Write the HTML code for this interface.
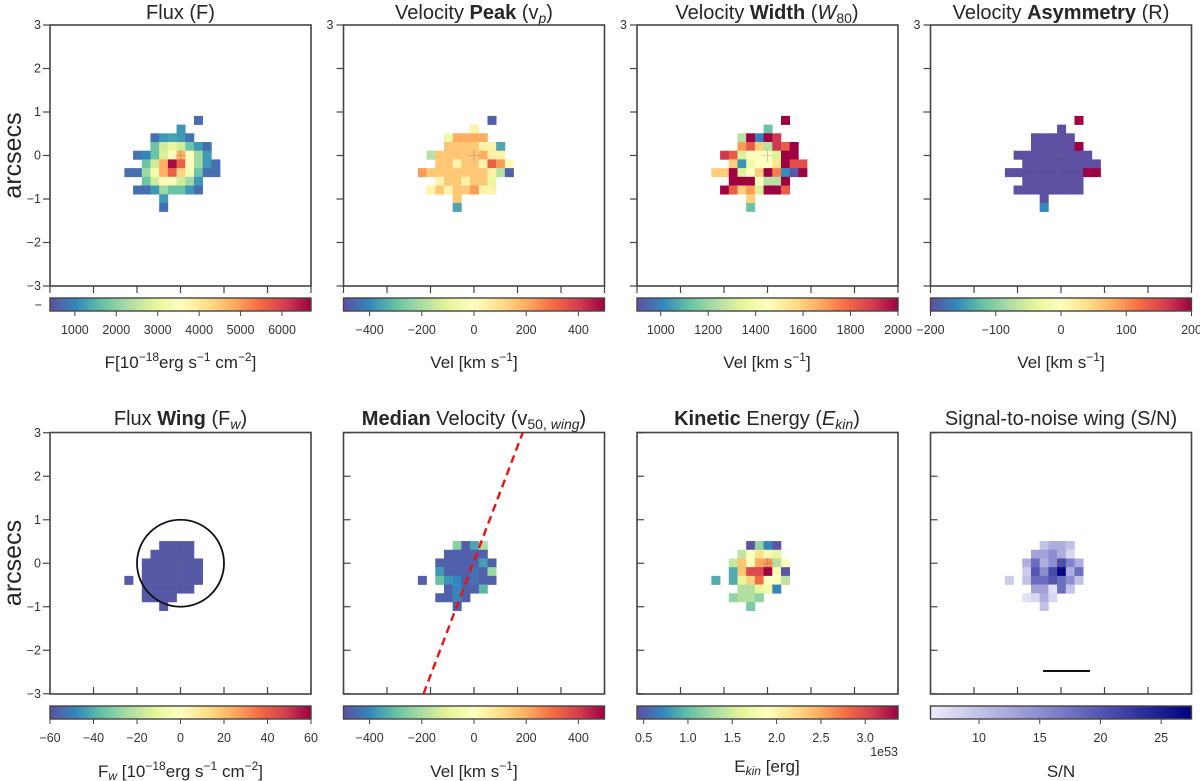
<!DOCTYPE html>
<html><head><meta charset="utf-8">
<style>
html,body{margin:0;padding:0;background:#fff;}
svg{display:block;font-family:"Liberation Sans",Arial,sans-serif;}
.tt{font-size:20px;fill:#262626;text-anchor:middle;}
.cl{font-size:17px;fill:#262626;text-anchor:middle;}
.tk{font-size:12.5px;fill:#333;}
</style></head>
<body>
<svg id="fig" width="1200" height="781" viewBox="0 0 1200 781" xmlns="http://www.w3.org/2000/svg">
<defs>
<linearGradient id="gSpec" x1="0" x2="1" y1="0" y2="0">
<stop offset="0" stop-color="#5e4fa2"/><stop offset="0.1" stop-color="#3288bd"/><stop offset="0.2" stop-color="#66c2a5"/><stop offset="0.3" stop-color="#abdda4"/><stop offset="0.4" stop-color="#e6f598"/><stop offset="0.5" stop-color="#ffffbf"/><stop offset="0.6" stop-color="#fee08b"/><stop offset="0.7" stop-color="#fdae61"/><stop offset="0.8" stop-color="#f46d43"/><stop offset="0.9" stop-color="#d53e4f"/><stop offset="1" stop-color="#9e0142"/>
</linearGradient>
<linearGradient id="gSN" x1="0" x2="1" y1="0" y2="0">
<stop offset="0" stop-color="#ececfa"/><stop offset="0.5" stop-color="#7b7bc8"/><stop offset="1" stop-color="#00007f"/>
</linearGradient>
</defs>
<text class="tt" x="180.5" y="19">Flux (F)</text>
<text class="tt" x="474" y="19">Velocity <tspan font-weight="bold">Peak</tspan> (v<tspan font-size="14" font-style="italic" dy="4">p</tspan><tspan dy="-4">)</tspan></text>
<text class="tt" x="767" y="19">Velocity <tspan font-weight="bold">Width</tspan> (<tspan font-style="italic">W</tspan><tspan font-size="14" dy="4">80</tspan><tspan dy="-4">)</tspan></text>
<text class="tt" x="1061" y="19">Velocity <tspan font-weight="bold">Asymmetry</tspan> (R)</text>
<text class="tt" x="180.5" y="425">Flux <tspan font-weight="bold">Wing</tspan> (F<tspan font-size="14" font-style="italic" dy="4">w</tspan><tspan dy="-4">)</tspan></text>
<text class="tt" x="474" y="425"><tspan font-weight="bold">Median</tspan> Velocity (v<tspan font-size="14" dy="4">50, <tspan font-style="italic">wing</tspan></tspan><tspan dy="-4">)</tspan></text>
<text class="tt" x="767" y="425"><tspan font-weight="bold">Kinetic</tspan> Energy (<tspan font-style="italic">E</tspan><tspan font-size="14" font-style="italic" dy="4">kin</tspan><tspan dy="-4">)</tspan></text>
<text class="tt" x="1061" y="425">Signal-to-noise wing (S/N)</text>
<text x="21" y="155.5" font-size="25" fill="#262626" text-anchor="middle" transform="rotate(-90 21 155.5)">arcsecs</text>
<text x="21" y="563" font-size="25" fill="#262626" text-anchor="middle" transform="rotate(-90 21 563)">arcsecs</text>
<text class="cl" x="180.5" y="368">F[10<tspan font-size="12" dy="-7">−18</tspan><tspan dy="7">erg s</tspan><tspan font-size="12" dy="-7">−1</tspan><tspan dy="7"> cm</tspan><tspan font-size="12" dy="-7">−2</tspan><tspan dy="7">]</tspan></text>
<text class="cl" x="474" y="368">Vel [km s<tspan font-size="12" dy="-7">−1</tspan><tspan dy="7">]</tspan></text>
<text class="cl" x="767" y="368">Vel [km s<tspan font-size="12" dy="-7">−1</tspan><tspan dy="7">]</tspan></text>
<text class="cl" x="1061" y="368">Vel [km s<tspan font-size="12" dy="-7">−1</tspan><tspan dy="7">]</tspan></text>
<text class="cl" x="180.5" y="777">F<tspan font-size="12" font-style="italic" dy="3">w</tspan><tspan dy="-3"> [10</tspan><tspan font-size="12" dy="-7">−18</tspan><tspan dy="7">erg s</tspan><tspan font-size="12" dy="-7">−1</tspan><tspan dy="7"> cm</tspan><tspan font-size="12" dy="-7">−2</tspan><tspan dy="7">]</tspan></text>
<text class="cl" x="474" y="777">Vel [km s<tspan font-size="12" dy="-7">−1</tspan><tspan dy="7">]</tspan></text>
<text class="cl" x="767" y="772">E<tspan font-size="12" font-style="italic" dy="3">kin</tspan><tspan dy="-3"> [erg]</tspan></text>
<text class="cl" x="1061" y="777">S/N</text>
<text class="tk" x="898" y="756" text-anchor="end">1e53</text>
<text class="tk" x="42" y="309" text-anchor="end">−</text>
</svg>
<script>
const _ = null;
// Columns: offsets c=-6..4 ; rows r=4..-6 (0.2 arcsec spaxels)
const fluxValues = [
[_,_,_,_,_,_,_,_,700,_,_],
[_,_,_,_,_,_,1200,_,_,_,_],
[_,_,_,750,1200,1300,1200,800,_,_,_],
[_,_,_,1700,2700,3000,2700,1700,1200,750,_],
[_,800,1000,1700,2800,3500,4800,3600,2200,1200,_],
[_,_,1700,2700,4800,6600,5600,3500,2200,1200,750],
[750,750,2200,3300,4800,5600,4300,3300,1700,750,750],
[_,_,1700,2700,3400,3400,2700,2200,1200,_,_],
[_,750,750,1200,2200,1700,1700,1200,750,_,_],
[_,_,_,_,1200,_,_,_,_,_,_],
[_,_,_,_,750,_,_,_,_,_,_]];
const vpeakValues = [
[_,_,_,_,_,_,_,_,-470,_,_],
[_,_,_,_,_,_,40,_,_,_,_],
[_,_,_,-60,200,200,200,200,_,_,_],
[_,_,_,150,150,150,150,40,40,-350,_],
[_,-180,150,150,150,150,150,200,40,40,_],
[_,_,150,150,40,150,150,40,330,230,20],
[230,150,150,150,150,150,150,150,40,-180,-470],
[_,_,40,150,150,40,150,150,-80,_,_],
[_,40,150,40,150,150,230,40,40,_,_],
[_,_,_,_,150,_,_,_,_,_,_],
[_,_,_,_,-350,_,_,_,_,_,_]];
const w80Values = [
[_,_,_,_,_,_,_,_,2000,_,_],
[_,_,_,_,_,_,1130,_,_,_,_],
[_,_,_,1250,2000,1000,2000,1900,_,_,_],
[_,_,_,1700,1820,1600,1250,1900,1820,2000,_],
[_,1900,1820,1320,1450,1450,1450,1330,2000,2000,_],
[_,_,1600,1030,1380,1450,1450,1550,2000,1850,1850],
[1600,1600,2000,1320,1450,1600,2000,1750,1020,920,2000],
[_,_,2000,2000,2000,1450,1250,1250,2000,_,_],
[_,2000,1820,1600,1700,1320,2000,2000,1820,_,_],
[_,_,_,_,1600,_,_,_,_,_,_],
[_,_,_,_,1130,_,_,_,_,_,_]];
const asymValues = [
[_,_,_,_,_,_,_,_,200,_,_],
[_,_,_,_,_,_,-200,_,_,_,_],
[_,_,_,-200,-200,-200,-200,-200,_,_,_],
[_,_,_,-200,-200,-200,-200,-200,200,_,_],
[_,-200,-200,-200,-200,-200,-200,-200,-200,-200,_],
[_,_,-200,-200,-200,-200,-200,-200,-200,-200,-200],
[-200,-200,-200,-200,-200,-200,-200,-200,-200,200,200],
[_,_,-200,-200,-200,-200,-200,-200,-200,_,_],
[_,-200,-200,-200,-200,-200,-200,-200,-200,_,_],
[_,_,_,_,-200,_,_,_,_,_,_],
[_,_,_,_,-160,_,_,_,_,_,_]];
const fluxWingValues = [
[_,_,_,_,_,_,_,_,_,_,_],
[_,_,_,_,_,_,_,_,_,_,_],
[_,_,_,_,-58,-58,-58,-58,_,_,_],
[_,_,_,-58,-58,-58,-58,-58,_,_,_],
[_,_,-58,-58,-58,-58,-58,-58,-58,_,_],
[_,_,-58,-58,-58,-58,-58,-58,-58,_,_],
[-58,_,-58,-58,-58,-58,-58,-58,-58,_,_],
[_,_,-58,-58,-58,-58,-58,-58,_,_,_],
[_,_,-58,-58,-58,-58,_,_,_,_,_],
[_,_,_,_,-58,_,_,_,_,_,_],
[_,_,_,_,_,_,_,_,_,_,_]];
const v50Values = [
[_,_,_,_,_,_,_,_,_,_,_],
[_,_,_,_,_,_,_,_,_,_,_],
[_,_,_,_,-250,-470,-350,-200,_,_,_],
[_,_,_,-470,-470,-470,-470,-470,_,_,_],
[_,_,-470,-470,-470,-470,-470,-360,-470,_,_],
[_,_,-370,-470,-470,-470,-440,-470,-220,_,_],
[-470,_,-300,-380,-400,-470,-440,-470,-470,_,_],
[_,_,_,-470,-400,-470,-470,-320,_,_,_],
[_,_,-470,-470,-400,-470,_,_,_,_,_],
[_,_,_,_,-470,_,_,_,_,_,_],
[_,_,_,_,_,_,_,_,_,_,_]];
const ekinValues = [
[_,_,_,_,_,_,_,_,_,_,_],
[_,_,_,_,_,_,_,_,_,_,_],
[_,_,_,_,0.4,1.2,0.7,0.45,_,_,_],
[_,_,_,1.4,1.9,2.2,1.8,1.65,_,_,_],
[_,_,1.45,2.35,1.9,2.5,2.6,1.35,1.9,_,_],
[_,_,0.9,2.35,3.0,3.0,3.4,1.95,0.45,_,_],
[0.9,_,0.9,1.65,2.3,2.8,1.9,1.9,1.4,_,_],
[_,_,_,1.35,1.35,1.65,1.75,0.7,_,_,_],
[_,_,1.2,1.35,1.35,1.2,_,_,_,_,_],
[_,_,_,_,1.1,_,_,_,_,_,_],
[_,_,_,_,_,_,_,_,_,_,_]];
const snValues = [
[_,_,_,_,_,_,_,_,_,_,_],
[_,_,_,_,_,_,_,_,_,_,_],
[_,_,_,_,10,12,12,10,_,_,_],
[_,_,_,13,13,15,12,8,_,_,_],
[_,_,12,18,12,15,21,16,12,_,_],
[_,_,9,20,15,21,27,12,18,_,_],
[9,_,10,18,18,20,18,15,10,_,_],
[_,_,_,13,13,7,18,10,_,_,_],
[_,_,7,8,12,8,_,_,_,_,_],
[_,_,_,_,10,_,_,_,_,_,_],
[_,_,_,_,_,_,_,_,_,_,_]];
const fluxRange = [400, 6700];   const fluxTicks = [1000,2000,3000,4000,5000,6000];
const vpeakRange = [-500, 500];  const vpeakTicks = [-400,-200,0,200,400];
const w80Range = [900, 2000];    const w80Ticks = [1000,1200,1400,1600,1800,2000];
const asymRange = [-200, 200];   const asymTicks = [-200,-100,0,100,200];
const fwRange = [-60, 60];       const fwTicks = [-60,-40,-20,0,20,40,60];
const v50Range = [-500, 500];    const v50Ticks = [-400,-200,0,200,400];
const ekinRange = [0.425, 3.37]; const ekinTicks = [0.5,1.0,1.5,2.0,2.5,3.0];
const snRange = [6, 27.5];       const snTicks = [10,15,20,25];
const axisTicks = [-3,-2,-1,0,1,2,3];
const pvLineX = [-1.16, 1.12];

const spec = ['#5e4fa2','#3288bd','#66c2a5','#abdda4','#e6f598','#ffffbf','#fee08b','#fdae61','#f46d43','#d53e4f','#9e0142'];
const snc = ['#ececfa','#7b7bc8','#00007f'];
function hex(h){return [parseInt(h.substr(1,2),16),parseInt(h.substr(3,2),16),parseInt(h.substr(5,2),16)];}
function cmap(stops,t){t=Math.max(0,Math.min(1,t));const n=stops.length-1;const k=Math.min(n-1,Math.floor(t*n));const f=t*n-k;const a=hex(stops[k]),b=hex(stops[k+1]);return 'rgb('+a.map((v,i)=>Math.round(v+(b[i]-v)*f)).join(',')+')';}
const NS='http://www.w3.org/2000/svg';
const svg=document.getElementById('fig');
function mk(tag,at){const e=document.createElementNS(NS,tag);for(const k in at)e.setAttribute(k,at[k]);svg.appendChild(e);return e;}

const panels=[
 {key:'flux',vals:fluxValues,range:fluxRange,ticks:fluxTicks,row:0,col:0,cm:spec,grad:'gSpec'},
 {key:'vpeak',vals:vpeakValues,range:vpeakRange,ticks:vpeakTicks,row:0,col:1,cm:spec,grad:'gSpec'},
 {key:'w80',vals:w80Values,range:w80Range,ticks:w80Ticks,row:0,col:2,cm:spec,grad:'gSpec'},
 {key:'asym',vals:asymValues,range:asymRange,ticks:asymTicks,row:0,col:3,cm:spec,grad:'gSpec'},
 {key:'flux-wing',vals:fluxWingValues,range:fwRange,ticks:fwTicks,row:1,col:0,cm:spec,grad:'gSpec'},
 {key:'v50',vals:v50Values,range:v50Range,ticks:v50Ticks,row:1,col:1,cm:spec,grad:'gSpec'},
 {key:'ekin',vals:ekinValues,range:ekinRange,ticks:ekinTicks,row:1,col:2,cm:spec,grad:'gSpec',fmt:v=>v.toFixed(1)},
 {key:'sn',vals:snValues,range:snRange,ticks:snTicks,row:1,col:3,cm:snc,grad:'gSN'}
];
panels.forEach(p=>{
 const L=50+293.5*p.col, W=261, T=p.row?432.5:25, H=p.row?261.5:261;
 const cx=L+W/2, cy=T+H/2, s=W/6;
 const X=a=>cx+a*s, Y=a=>cy-a*s;
 const bg=mk('rect',{x:L,y:T,width:W,height:H,fill:'#fff'});
 
 
 p.vals.forEach((row,j)=>row.forEach((v,i)=>{
  if(v===null)return;
  const c=i-6, r=4-j;
  const t=(v-p.range[0])/(p.range[1]-p.range[0]);
  const x0=X(-0.09+0.2*c), y0=Y(0.11+0.2*r);
  const cell=mk('rect',{x:x0.toFixed(2),y:y0.toFixed(2),width:(0.2*s+0.3).toFixed(2),height:(0.2*s+0.3).toFixed(2),fill:cmap(p.cm,t)});
  
  
 }));
 const cr=mk('path',{d:`M${cx-6},${cy}H${cx+6}M${cx},${cy-6}V${cy+6}`,stroke:'#777',"stroke-width":0.6,opacity:0.6});
 
 
 const inside=p.row===1&&p.col>0;
 axisTicks.forEach(a=>{
  const ty=Y(a);
  const tl=inside?mk('line',{x1:L,x2:L+7,y1:ty,y2:ty,stroke:'#444','stroke-width':1.2}):mk('line',{x1:L-7,x2:L,y1:ty,y2:ty,stroke:'#444','stroke-width':1.2});
  
  
  const tx=X(a);
  const xl=p.row?mk('line',{x1:tx,x2:tx,y1:T+H-7,y2:T+H,stroke:'#444','stroke-width':1.2}):mk('line',{x1:tx,x2:tx,y1:T+H,y2:T+H+7,stroke:'#444','stroke-width':1.2});
  
  
  if(p.col===0||(p.row===0&&a===3)){
   const lb=mk('text',{x:L-(p.col===0?9:10),y:ty+4,'text-anchor':'end',class:'tk'});
   lb.textContent=(a<0?'−'+(-a):''+a);
   
   
  }
 });
 const fr=mk('rect',{x:L,y:T,width:W,height:H,fill:'none',stroke:'#444','stroke-width':1.6});
 
 
 const cbT=p.row?706:298, cbH=13;
 const cb=mk('rect',{x:L,y:cbT,width:W,height:cbH,fill:`url(#${p.grad})`,stroke:'#444','stroke-width':1.4});
 
 
 const CX=v=>L+(v-p.range[0])/(p.range[1]-p.range[0])*W;
 p.ticks.forEach(v=>{
  const x=CX(v);
  const tm=mk('line',{x1:x,x2:x,y1:cbT+cbH,y2:cbT+cbH+5,stroke:'#444','stroke-width':1});
  
  
  const tl=mk('text',{x:x,y:cbT+cbH+23,'text-anchor':'middle',class:'tk'});
  tl.textContent=p.fmt?p.fmt(v):(v<0?'−'+(-v):''+v);
  
  
 });
 if(p.key==='flux-wing'){
  const ci=mk('circle',{cx:X(0),cy:Y(0),r:s*1.0,fill:'none',stroke:'#111','stroke-width':1.8});
  
  
 }
 if(p.key==='v50'){
  const ln=mk('line',{x1:X(pvLineX[0]),y1:Y(-3),x2:X(pvLineX[1]),y2:Y(3),stroke:'#ee1111','stroke-width':2.4,'stroke-dasharray':'8,5'});
  
  
 }
 if(p.key==='sn'){
  const sb=mk('line',{x1:1043,x2:1090,y1:671,y2:671,stroke:'#111','stroke-width':2});
  
  
 }
});
</script>
</body></html>
